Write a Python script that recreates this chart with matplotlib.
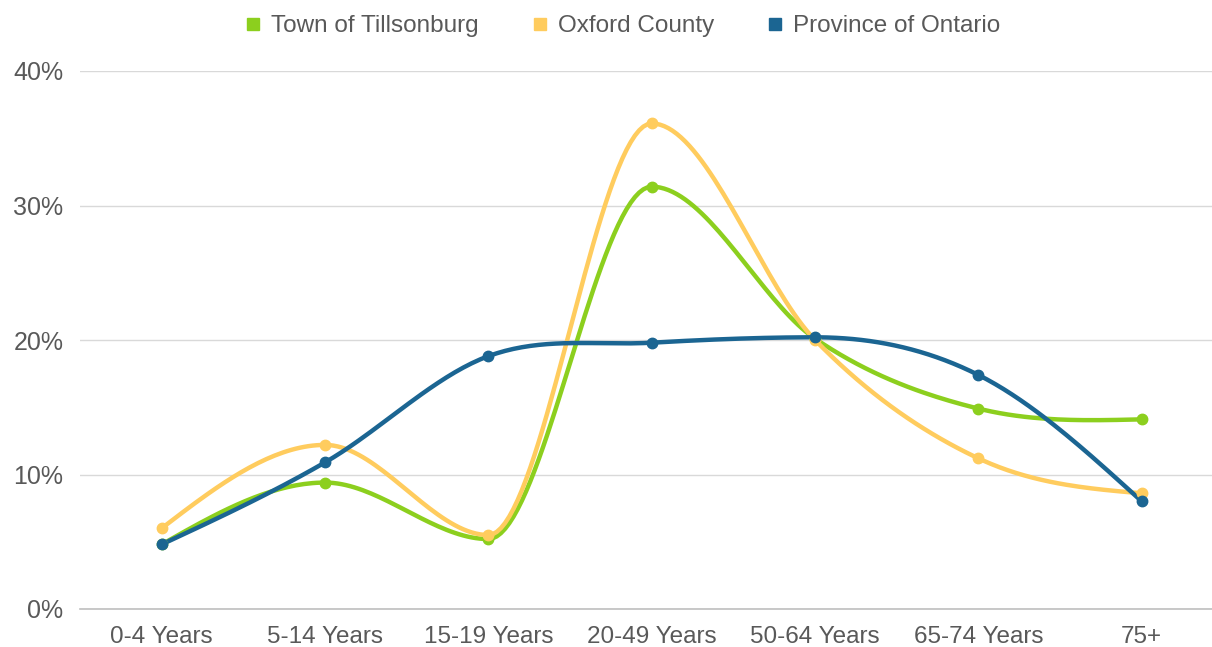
import numpy as np
import matplotlib.pyplot as plt
from matplotlib.ticker import FuncFormatter

# Age distribution (share of population)
categories = ['0-4 Years', '5-14 Years', '15-19 Years', '20-49 Years',
              '50-64 Years', '65-74 Years', '75+']
tillsonburg = [0.048, 0.094, 0.052, 0.314, 0.201, 0.149, 0.141]
oxford = [0.060, 0.122, 0.055, 0.361, 0.200, 0.112, 0.086]
ontario = [0.048, 0.109, 0.188, 0.198, 0.202, 0.174, 0.080]

series = [
    ('Town of Tillsonburg', tillsonburg, '#8CCF1E'),
    ('Oxford County', oxford, '#FFCC5E'),
    ('Province of Ontario', ontario, '#1B6592'),
]


def smooth(xs, ys, n=40):
    # smoothed line through the points: Hermite spline, flat at local extrema
    y = np.asarray(ys, float)
    m = len(y)
    s = np.diff(y)
    tan = np.zeros(m)
    for i in range(1, m - 1):
        if s[i - 1] * s[i] > 0:
            tan[i] = (y[i + 1] - y[i - 1]) / 2
    tan[0] = (3 * s[0] - tan[1]) / 2
    tan[-1] = (3 * s[-1] - tan[-2]) / 2
    t = np.linspace(0, 1, n)
    h00 = 2 * t**3 - 3 * t**2 + 1
    h10 = t**3 - 2 * t**2 + t
    h01 = -2 * t**3 + 3 * t**2
    h11 = t**3 - t**2
    ox, oy = [], []
    for i in range(m - 1):
        seg = h00 * y[i] + h10 * tan[i] + h01 * y[i + 1] + h11 * tan[i + 1]
        sl = slice(0 if i == 0 else 1, None)
        ox.append((xs[i] + t)[sl])
        oy.append(seg[sl])
    return np.concatenate(ox), np.concatenate(oy)


plt.rcParams['font.family'] = ['Liberation Sans', 'DejaVu Sans']

fig = plt.figure(figsize=(12.12, 6.47), dpi=100)
ax = fig.add_axes([80 / 1212, 38 / 647, 1 - 80 / 1212, (609 - 71) / 647])

x = np.arange(len(categories))
for name, vals, color in series:
    sx, sy = smooth(x, vals)
    ax.plot(sx, sy, color=color, lw=3.2, solid_capstyle='round', zorder=3)
    ax.plot(x, vals, 'o', color=color, ms=7.5, zorder=4)
    ax.plot([], [], 's', color=color, ms=8, label=name)

ax.set_xlim(-0.5, 6.43)
ax.set_ylim(0, 0.4)
ax.set_yticks([0, 0.1, 0.2, 0.3, 0.4])
ax.yaxis.set_major_formatter(FuncFormatter(lambda v, _: f'{v * 100:.0f}%'))
ax.set_xticks(x)
ax.set_xticklabels(categories)
ax.tick_params(axis='x', length=0, labelsize=17.5, colors='#595959', pad=12)
ax.tick_params(axis='y', length=0, labelsize=18, colors='#595959', pad=12)
ax.grid(axis='y', color='#D9D9D9', lw=1)
ax.set_axisbelow(True)
for s in ['top', 'right', 'left']:
    ax.spines[s].set_visible(False)
ax.spines['bottom'].set_color('#BFBFBF')
ax.spines['bottom'].set_linewidth(1.2)

leg = fig.legend(loc='upper center', bbox_to_anchor=(0.512, 1.01), ncol=3,
                 frameon=False, fontsize=17.5, handletextpad=0.25,
                 columnspacing=2.0, handlelength=1.0)
for t in leg.get_texts():
    t.set_color('#595959')

fig.savefig('out.png', dpi=100, facecolor='white')
